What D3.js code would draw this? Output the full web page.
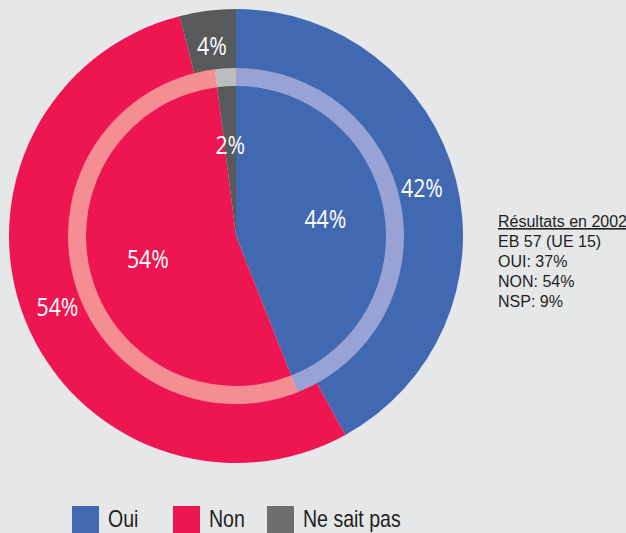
<!DOCTYPE html>
<html>
<head>
<meta charset="utf-8">
<script src="https://cdn.jsdelivr.net/npm/d3@7"></script>
<style>
  html, body { margin: 0; padding: 0; background: #e6e7e8; }
  svg { display: block; }
</style>
</head>
<body>
<div id="chart"></div>
<script>
// Données
var categories = ["Oui", "Non", "Ne sait pas"];
var outerValues = [42, 54, 4];   // anneau extérieur
var innerValues = [44, 54, 2];   // disque intérieur
var noteLines = ["Résultats en 2002", "EB 57 (UE 15)", "OUI: 37%", "NON: 54%", "NSP: 9%"];

var colors = ["#4169b1", "#ee1651", "#58595b"];
var lightColors = ["#98a2d4", "#f58e92", "#bcbdbf"];

var width = 626, height = 533;
var cx = 236, cy = 236;

var svg = d3.select("#chart")
  .append("svg")
  .attr("width", width)
  .attr("height", height);

var g = svg.append("g")
  .attr("transform", "translate(" + cx + "," + cy + ")");

var pie = d3.pie().sort(null).value(function(d) { return d; });

var outerArcs = pie(outerValues);
var innerArcs = pie(innerValues);

var outerArc = d3.arc().innerRadius(166).outerRadius(227);
var ringArc = d3.arc().innerRadius(150).outerRadius(168);
var innerArc = d3.arc().innerRadius(0).outerRadius(151);

// anneau extérieur
g.selectAll(".outer")
  .data(outerArcs)
  .enter().append("path")
  .attr("class", "outer")
  .attr("d", outerArc)
  .attr("fill", function(d, i) { return colors[i]; });

// disque intérieur
g.selectAll(".inner")
  .data(innerArcs)
  .enter().append("path")
  .attr("class", "inner")
  .attr("d", innerArc)
  .attr("fill", function(d, i) { return colors[i]; });

// liseré clair
g.selectAll(".ring")
  .data(innerArcs)
  .enter().append("path")
  .attr("class", "ring")
  .attr("d", ringArc)
  .attr("fill", function(d, i) { return lightColors[i]; });

// étiquettes (police un peu condensée)
function labelPos(d, r) {
  var a = (d.startAngle + d.endAngle) / 2;
  return [r * Math.sin(a), -r * Math.cos(a)];
}

function addLabels(cls, arcs, r) {
  g.selectAll("." + cls)
    .data(arcs)
    .enter().append("text")
    .attr("class", cls)
    .attr("transform", function(d) {
      var p = labelPos(d, r);
      return "translate(" + p[0] + "," + p[1] + ") scale(0.85,1)";
    })
    .attr("dy", "0.36em")
    .attr("text-anchor", "middle")
    .style("font-family", "'Open Sans', sans-serif")
    .style("font-weight", 400)
    .style("font-size", "25px")
    .attr("fill", "#fff")
    .text(function(d) { return d.value + "%"; });
}
addLabels("outer-label", outerArcs, 192);
addLabels("inner-label", innerArcs, 91);

// note à droite
svg.selectAll(".note")
  .data(noteLines)
  .enter().append("text")
  .attr("class", "note")
  .attr("x", 498)
  .attr("y", function(d, i) { return 227 + i * 20; })
  .style("font-family", "'Liberation Sans', Arial, sans-serif")
  .style("font-size", "16px")
  .style("text-decoration", function(d, i) { return i === 0 ? "underline" : "none"; })
  .attr("fill", "#231f20")
  .text(function(d) { return d; });

// légende
var legendX = [72, 173, 267];
var legend = svg.selectAll(".legend")
  .data(categories)
  .enter().append("g")
  .attr("class", "legend")
  .attr("transform", function(d, i) { return "translate(" + legendX[i] + ",506)"; });

legend.append("rect")
  .attr("width", 27)
  .attr("height", 27)
  .attr("fill", function(d, i) { return i === 2 ? "#6d6e70" : colors[i]; });

legend.append("text")
  .attr("transform", "translate(36,21) scale(0.85,1)")
  .style("font-family", "'Liberation Sans', Arial, sans-serif")
  .style("font-size", "23px")
  .attr("fill", "#231f20")
  .text(function(d) { return d; });
</script>
</body>
</html>
